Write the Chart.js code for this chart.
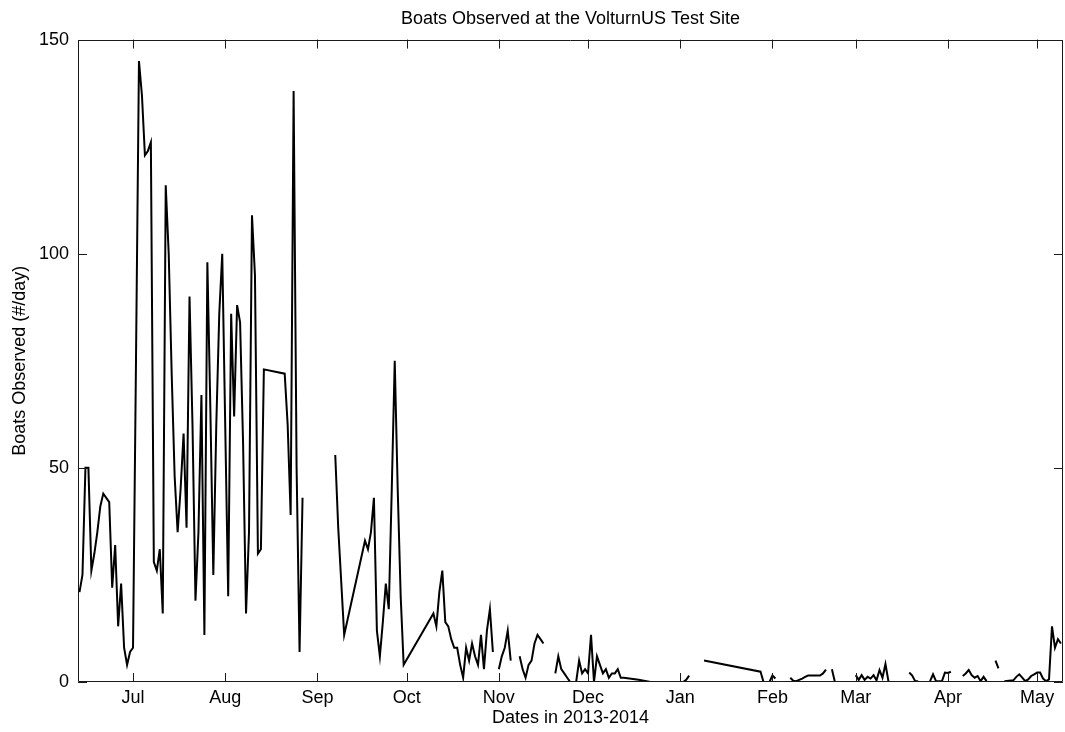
<!DOCTYPE html>
<html>
<head>
<meta charset="utf-8">
<script src="https://cdn.jsdelivr.net/npm/chart.js@4/dist/chart.umd.min.js"></script>
<style>
  html, body { margin: 0; padding: 0; background: #fff; }
  #wrap { width: 1065px; height: 732px; }
</style>
</head>
<body>
<div id="wrap"><canvas id="chart" width="1065" height="732"></canvas></div>
<script>
// daily counts, null = break in the record
const dates = [
  '2013-06-13','2013-06-14','2013-06-15','2013-06-16','2013-06-17','2013-06-18','2013-06-19','2013-06-20',
  '2013-06-21','2013-06-22','2013-06-23','2013-06-24','2013-06-25','2013-06-26','2013-06-27','2013-06-28',
  '2013-06-29','2013-06-30',
  '2013-07-01','2013-07-02','2013-07-03','2013-07-04','2013-07-05','2013-07-06','2013-07-07','2013-07-08',
  '2013-07-09','2013-07-10','2013-07-11','2013-07-12','2013-07-13','2013-07-14','2013-07-15','2013-07-16',
  '2013-07-17','2013-07-18','2013-07-19','2013-07-20','2013-07-21','2013-07-22','2013-07-23','2013-07-24',
  '2013-07-25','2013-07-26','2013-07-27','2013-07-28','2013-07-29','2013-07-30','2013-07-31',
  '2013-08-01','2013-08-02','2013-08-03','2013-08-04','2013-08-05','2013-08-06','2013-08-07','2013-08-08',
  '2013-08-09','2013-08-10','2013-08-11','2013-08-12','2013-08-13','2013-08-14','2013-08-21','2013-08-22',
  '2013-08-23','2013-08-24','2013-08-25','2013-08-26','2013-08-27','2013-08-28',
  '2013-09-07','2013-09-08','2013-09-10','2013-09-17','2013-09-18','2013-09-19','2013-09-20','2013-09-21',
  '2013-09-22','2013-09-23','2013-09-24','2013-09-25','2013-09-26','2013-09-27','2013-09-28','2013-09-29',
  '2013-09-30',
  '2013-10-10','2013-10-11','2013-10-12','2013-10-13','2013-10-14','2013-10-15','2013-10-16','2013-10-17',
  '2013-10-18','2013-10-19','2013-10-20','2013-10-21','2013-10-22','2013-10-23','2013-10-24','2013-10-25',
  '2013-10-26','2013-10-27','2013-10-28','2013-10-29','2013-10-30','2013-10-31',
  '2013-11-01','2013-11-02','2013-11-03','2013-11-04','2013-11-05','2013-11-06','2013-11-08','2013-11-09',
  '2013-11-10','2013-11-11','2013-11-12','2013-11-13','2013-11-14','2013-11-15','2013-11-16','2013-11-17',
  '2013-11-20','2013-11-21','2013-11-22','2013-11-23','2013-11-24','2013-11-25','2013-11-26','2013-11-27',
  '2013-11-28','2013-11-29','2013-11-30',
  '2013-12-01','2013-12-02','2013-12-03','2013-12-04','2013-12-05','2013-12-06','2013-12-07','2013-12-08',
  '2013-12-09','2013-12-10','2013-12-11','2013-12-12','2013-12-13','2013-12-18','2013-12-22','2013-12-23',
  '2013-12-27',
  '2014-01-02','2014-01-03','2014-01-04','2014-01-05','2014-01-09','2014-01-28','2014-01-29','2014-01-31',
  '2014-02-01','2014-02-02','2014-02-03','2014-02-07','2014-02-08','2014-02-09','2014-02-10','2014-02-11',
  '2014-02-12','2014-02-13','2014-02-17','2014-02-18','2014-02-19','2014-02-20','2014-02-21','2014-02-22',
  '2014-02-23','2014-02-27','2014-02-28',
  '2014-03-01','2014-03-02','2014-03-03','2014-03-04','2014-03-05','2014-03-06','2014-03-07','2014-03-08',
  '2014-03-09','2014-03-10','2014-03-11','2014-03-12','2014-03-13','2014-03-19','2014-03-20','2014-03-21',
  '2014-03-22','2014-03-23','2014-03-26','2014-03-27','2014-03-28','2014-03-29','2014-03-30','2014-03-31',
  '2014-04-01','2014-04-02','2014-04-03','2014-04-06','2014-04-07','2014-04-08','2014-04-09','2014-04-10',
  '2014-04-11','2014-04-12','2014-04-13','2014-04-14','2014-04-15','2014-04-17','2014-04-18','2014-04-19',
  '2014-04-20','2014-04-23','2014-04-24','2014-04-25','2014-04-26','2014-04-27','2014-04-28','2014-04-29',
  '2014-04-30',
  '2014-05-01','2014-05-02','2014-05-03','2014-05-04','2014-05-05','2014-05-06','2014-05-07','2014-05-08',
  '2014-05-09'
];

const boats = [
  21, 25, 50, 50, 26, 30, 35, 41,
  44, 43, 42, 22, 32, 13, 23, 8,
  4, 7,
  8, 75, 145, 137, 123, 124, 126, 28,
  26, 31, 16, 116, 100, 72, 48, 35,
  45, 58, 36, 90, 60, 19, 35, 67,
  11, 98, 64, 25, 60, 86, 100,
  60, 20, 86, 62, 88, 84, 56, 16,
  35, 109, 95, 30, 31, 73, 72, 60,
  39, 138, 50, 7, 43, null,
  53, 36, 11, 33, 31, 35, 43, 12,
  6, 14, 23, 17, 45, 75, 45, 20,
  4,
  16, 13, 21, 26, 14, 13, 10, 8,
  8, 4, 1, 8, 5, 9, 6, 4,
  11, 3, 12, 17, 7, null,
  3, 6, 8, 12, 5, null, 6, 3,
  1, 4, 5, 9, 11, 10, 9, null,
  2, 6, 3, 2, 1, 0, 0, 0,
  5, 2, 3,
  2, 11, 0, 6, 4, 2, 3, 1,
  2, 2, 3, 1, 1, 0.5, 0, null,
  0,
  0, 0.5, 1.5, null, 5, 2.4, 0, 0,
  1.5, 0.8, null, 1, 0.3, 0.2, 0.5, 0.8,
  1.2, 1.5, 1.5, 2, 2.9, null, 3, 0,
  null, 1.8, null,
  1.6, 0.5, 1.6, 0.5, 1.2, 0.8, 1.6, 0.4,
  2.8, 1, 4.2, 0.2, null, 2.2, 1.5, 0.2,
  0.2, null, 0.2, 1.8, 0.2, 0.2, 0.2, 2.2,
  2.1, 2.4, null, 1.4, 2.0, 2.8, 1.6, 1.0,
  1.4, 0.2, 1.2, 0.2, null, 5, 3.2, null,
  0.2, 0.4, 1.2, 1.8, 1.0, 0.2, 0.6, 1.4,
  1.8,
  2.2, 2.2, 0.8, 0.2, 0.6, 13, 8, 10,
  9
];

const monthTicks = ['2013-07-01','2013-08-01','2013-09-01','2013-10-01','2013-11-01','2013-12-01',
                    '2014-01-01','2014-02-01','2014-03-01','2014-04-01','2014-05-01'];
const monthLabels = ['Jul','Aug','Sep','Oct','Nov','Dec','Jan','Feb','Mar','Apr','May'];
const yTicks = [0, 50, 100, 150];

// days counted from 1 Jul 2013
function dayNum(s) {
    const p = s.split('-').map(Number);
    return (Date.UTC(p[0], p[1] - 1, p[2]) - Date.UTC(2013, 6, 1)) / 864e5;
}

const points = dates.map((d, i) => ({ x: dayNum(d), y: boats[i] }));
const FONT = "'Liberation Sans', Arial, sans-serif";

// MATLAB-like box with inward tick marks on all four sides
const boxTicks = {
    id: 'boxTicks',
    afterDatasetsDraw(chart) {
        const { ctx, chartArea: a, scales: { x, y } } = chart;
        const len = 9;
        ctx.save();
        ctx.strokeStyle = '#1a1a1a';
        ctx.lineWidth = 1;
        ctx.beginPath();
        ctx.rect(Math.round(a.left) + 0.5, Math.round(a.top) + 0.5,
                 Math.round(a.right - a.left) - 1, Math.round(a.bottom - a.top) - 1);
        x.ticks.forEach(t => {
            const px = Math.round(x.getPixelForValue(t.value)) + 0.5;
            ctx.moveTo(px, a.bottom); ctx.lineTo(px, a.bottom - len);
            ctx.moveTo(px, a.top); ctx.lineTo(px, a.top + len);
        });
        y.ticks.forEach(t => {
            const py = Math.round(y.getPixelForValue(t.value)) + 0.5;
            ctx.moveTo(a.left, py); ctx.lineTo(a.left + len, py);
            ctx.moveTo(a.right, py); ctx.lineTo(a.right - len, py);
        });
        ctx.stroke();
        ctx.restore();
    }
};

new Chart(document.getElementById('chart'), {
    type: 'line',
    data: {
        datasets: [{
            data: points,
            borderColor: '#000',
            borderWidth: 2,
            pointRadius: 0,
            tension: 0,
            spanGaps: false
        }]
    },
    options: {
        responsive: false,
        animation: false,
        devicePixelRatio: 1,
        layout: { padding: { left: 0, right: 2, top: 0, bottom: 0 } },
        plugins: {
            legend: { display: false },
            tooltip: { enabled: false },
            title: {
                display: true,
                fullSize: false,
                text: 'Boats Observed at the VolturnUS Test Site',
                color: '#000',
                font: { family: FONT, size: 18, weight: 'normal' },
                padding: { top: 8, bottom: 10 }
            }
        },
        scales: {
            x: {
                type: 'linear',
                min: -18.5,
                max: 312.7,
                afterBuildTicks: axis => { axis.ticks = monthTicks.map(d => ({ value: dayNum(d) })); },
                afterFit: axis => { axis.height = 50; },
                grid: { display: false, drawTicks: false },
                border: { display: false },
                ticks: {
                    autoSkip: false,
                    maxRotation: 0,
                    padding: 5,
                    color: '#000',
                    font: { family: FONT, size: 18 },
                    callback: (v, i) => monthLabels[i]
                },
                title: {
                    display: true,
                    text: 'Dates in 2013-2014',
                    color: '#000',
                    font: { family: FONT, size: 18 },
                    padding: { top: 0, bottom: 3 }
                }
            },
            y: {
                min: 0,
                max: 150,
                afterBuildTicks: axis => { axis.ticks = yTicks.map(v => ({ value: v })); },
                afterFit: axis => { axis.width = 78; },
                grid: { display: false, drawTicks: false },
                border: { display: false },
                ticks: {
                    padding: 9,
                    color: '#000',
                    font: { family: FONT, size: 18 }
                },
                title: {
                    display: true,
                    text: 'Boats Observed (#/day)',
                    color: '#000',
                    font: { family: FONT, size: 18 },
                    padding: { top: 9, bottom: 0 }
                }
            }
        }
    },
    plugins: [boxTicks]
});
</script>
</body>
</html>
